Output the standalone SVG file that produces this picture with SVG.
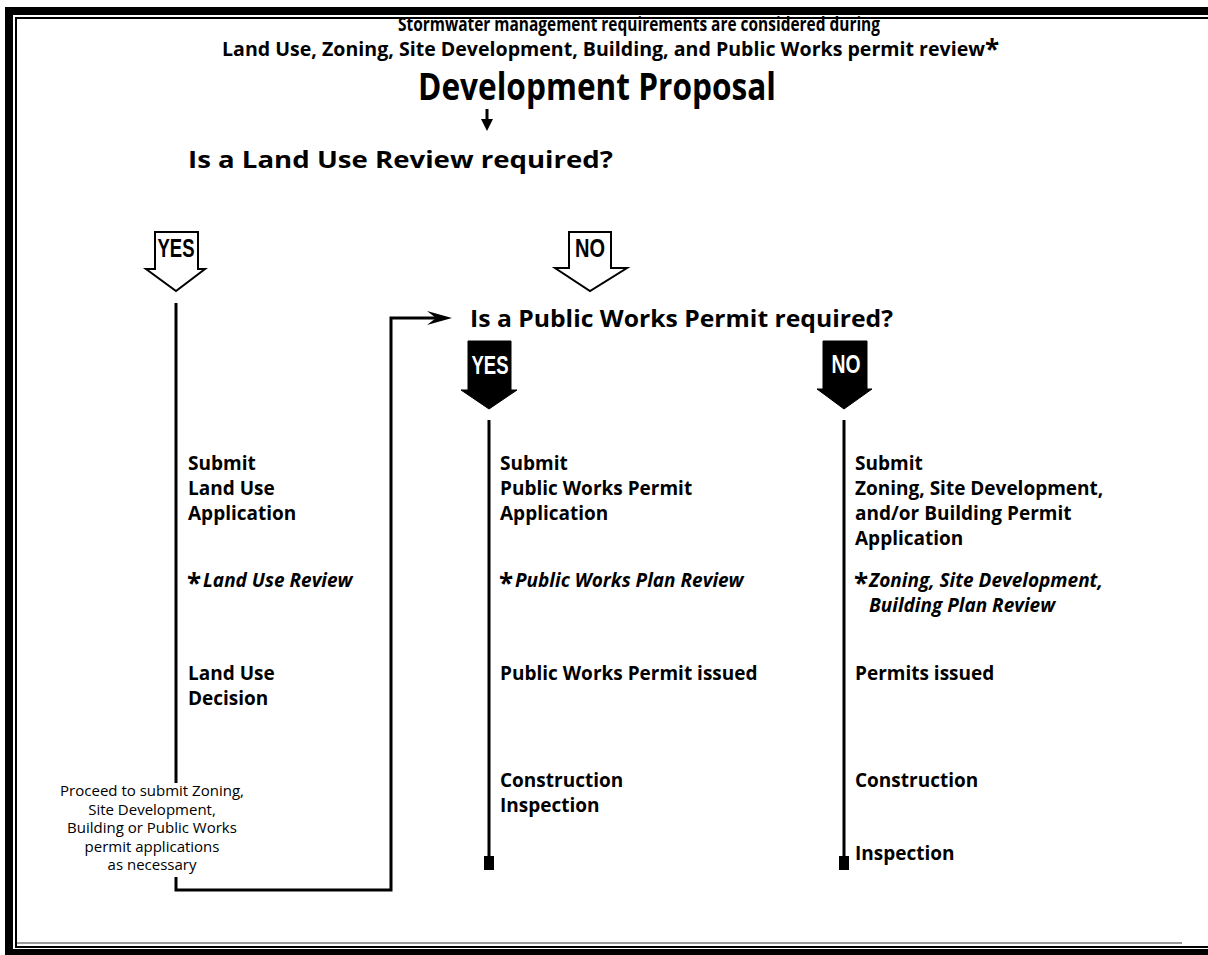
<svg xmlns="http://www.w3.org/2000/svg" width="1208" height="955" viewBox="0 0 1208 955">
<defs>
<style>
.t{font-family:"Open Sans","Liberation Sans",sans-serif;font-weight:700;fill:#000}
.b{font-family:"Open Sans","Liberation Sans",sans-serif;font-weight:700;font-size:19px;fill:#000}
.bi{font-family:"Open Sans","Liberation Sans",sans-serif;font-weight:700;font-style:italic;font-size:19px;fill:#000}
.ast{font-family:"Open Sans","Liberation Sans",sans-serif;font-weight:700;font-size:26px;fill:#000}
.p{font-family:"Open Sans","Liberation Sans",sans-serif;font-weight:400;font-size:15px;fill:#000;text-anchor:middle}
.yn{font-family:"Liberation Sans","DejaVu Sans",sans-serif;font-weight:900;font-size:25px;text-anchor:middle}
.ln{stroke:#000;stroke-width:3;fill:none}
.hol{fill:#fff;stroke:#000;stroke-width:2}
.sol{fill:#000;stroke:#000;stroke-width:1}
</style>
</defs>
<rect width="1208" height="955" fill="#fff"/>
<g id="frame">
<rect x="5" y="7" width="8" height="948" fill="#000"/>
<rect x="5" y="7" width="1203" height="8" fill="#000"/>
<rect x="5" y="949" width="1203" height="6" fill="#000"/>
<rect x="15" y="17" width="2" height="931" fill="#000"/>
<rect x="15" y="17" width="1193" height="2" fill="#000"/>
<rect x="15" y="946" width="1193" height="2" fill="#000"/>
<rect x="17" y="942" width="1165" height="2" fill="#999"/>
</g>
<g id="header">
<text class="t" x="398" y="31" font-size="19" textLength="482" lengthAdjust="spacingAndGlyphs">Stormwater management requirements are considered during</text>
<text class="t" x="222" y="56" font-size="19" textLength="763" lengthAdjust="spacingAndGlyphs">Land Use, Zoning, Site Development, Building, and Public Works permit review</text>
<text class="ast" x="985" y="59" font-size="30">*</text>
</g>
<g id="node-proposal">
<text class="t" x="418" y="100" font-size="38" textLength="358" lengthAdjust="spacingAndGlyphs">Development Proposal</text>
</g>
<g id="node-landuse-q">
<text class="t" x="188" y="168" font-size="24" textLength="425" lengthAdjust="spacingAndGlyphs">Is a Land Use Review required?</text>
</g>
<g id="node-pw-q">
<text class="t" x="470" y="327" font-size="24" textLength="423" lengthAdjust="spacingAndGlyphs">Is a Public Works Permit required?</text>
</g>
<g id="arrow-yes-1">
<polygon class="hol" points="155,232 198,232 198,269 205,269 176,291 146,269 155,269"/>
<text class="yn" x="176" y="257" fill="#000" textLength="37" lengthAdjust="spacingAndGlyphs">YES</text>
</g>
<g id="arrow-no-1">
<polygon class="hol" points="569,232 611,232 611,268 627,268 590,291 555,268 569,268"/>
<text class="yn" x="590" y="257" fill="#000" textLength="30" lengthAdjust="spacingAndGlyphs">NO</text>
</g>
<g id="arrow-yes-2">
<polygon class="sol" points="468,341 511,341 511,390 517,390 489,409 461,390 468,390"/>
<text class="yn" x="490" y="374" fill="#fff" textLength="37" lengthAdjust="spacingAndGlyphs">YES</text>
</g>
<g id="arrow-no-2">
<polygon class="sol" points="823,341 867,341 867,389 872,389 844,409 817,389 823,389"/>
<text class="yn" x="846" y="373" fill="#fff" textLength="29" lengthAdjust="spacingAndGlyphs">NO</text>
</g>
<g id="connectors">
<line class="ln" x1="487" y1="109" x2="487" y2="122"/>
<polygon points="481,119 493,119 487,131" fill="#000"/>
<line class="ln" x1="176" y1="303" x2="176" y2="783"/>
<polyline class="ln" points="176,877 176,890 391,890 391,318 440,318"/>
<polygon points="452,318 427,311 436,318 427,325" fill="#000"/>
<line class="ln" x1="489" y1="420" x2="489" y2="860"/>
<rect x="484" y="856" width="10" height="14" fill="#000"/>
<line class="ln" x1="844" y1="420" x2="844" y2="860"/>
<rect x="839" y="856" width="10" height="14" fill="#000"/>
</g>
<g id="node-col1">
<text class="b" x="188" y="470">Submit</text>
<text class="b" x="188" y="495">Land Use</text>
<text class="b" x="188" y="520">Application</text>
<text class="ast" x="187" y="593">*</text>
<text class="bi" x="203" y="587">Land Use Review</text>
<text class="b" x="188" y="680">Land Use</text>
<text class="b" x="188" y="705">Decision</text>
</g>
<g id="node-proceed">
<text class="p" x="152" y="796">Proceed to submit Zoning,</text>
<text class="p" x="152" y="814.5">Site Development,</text>
<text class="p" x="152" y="833">Building or Public Works</text>
<text class="p" x="152" y="851.5">permit applications</text>
<text class="p" x="152" y="870">as necessary</text>
</g>
<g id="node-col2">
<text class="b" x="500" y="470">Submit</text>
<text class="b" x="500" y="495">Public Works Permit</text>
<text class="b" x="500" y="520">Application</text>
<text class="ast" x="499" y="593">*</text>
<text class="bi" x="515" y="587">Public Works Plan Review</text>
<text class="b" x="500" y="680">Public Works Permit issued</text>
<text class="b" x="500" y="787">Construction</text>
<text class="b" x="500" y="812">Inspection</text>
</g>
<g id="node-col3">
<text class="b" x="855" y="470">Submit</text>
<text class="b" x="855" y="495">Zoning, Site Development,</text>
<text class="b" x="855" y="520">and/or Building Permit</text>
<text class="b" x="855" y="545">Application</text>
<text class="ast" x="854" y="593">*</text>
<text class="bi" x="869" y="587">Zoning, Site Development,</text>
<text class="bi" x="869" y="612">Building Plan Review</text>
<text class="b" x="855" y="680">Permits issued</text>
<text class="b" x="855" y="787">Construction</text>
<text class="b" x="855" y="860">Inspection</text>
</g>
</svg>
